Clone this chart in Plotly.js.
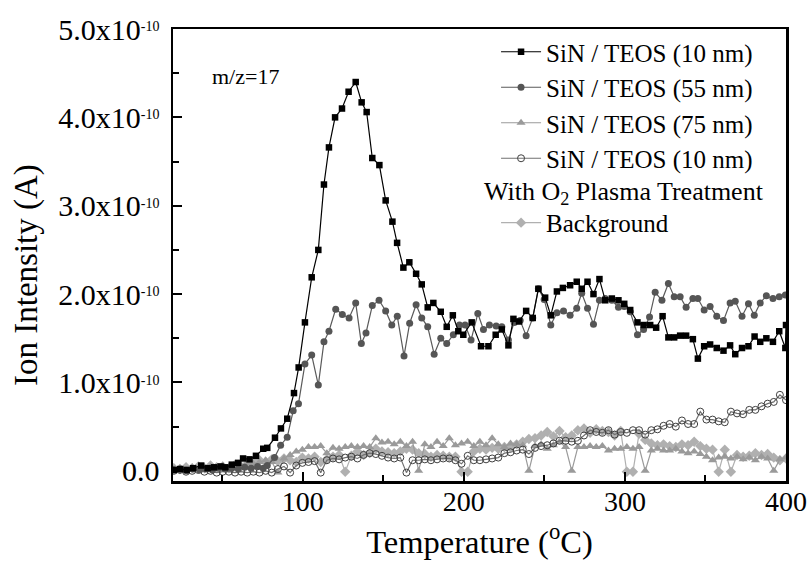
<!DOCTYPE html>
<html>
<head>
<meta charset="utf-8">
<script src="https://cdn.plot.ly/plotly-3.0.1.min.js"></script>
<style>html,body{margin:0;padding:0;background:#fff;}#chart{width:811px;height:578px;}</style>
</head>
<body>
<div id="chart"></div>
<script>
// Ion intensity values are in units of 1e-10 A
// SiN / TEOS (10 nm)
const t10 = [20,24,28,32,37,41,45,49,52,56,60,63,67,71,75.5,78,82.8,86.5,90.4,94.6,97.5,101.4,105.6,109.7,113.2,116.3,120.1,124.4,128.5,132.9,136.6,139.7,143.2,147.6,151.5,155.7,158.6,162.5,166.2,170.4,173.9,177.6,181.1,185.7,189.4,193.2,196.6,199.7,204.9,210.7,215.3,219.8,223.6,227.7,230.8,234.3,238.7,242.8,246.3,250.5,254,257.8,261.5,266,270.1,273.2,276.8,280.5,284.2,287.8,291.9,296,299.6,303.3,307.8,311.6,315.7,319.4,323.4,327,330.6,334.3,338,342.2,345.3,349.2,352.9,357,361.2,365.3,368.5,372.7,376.7,380.5,384,387.8,391.9,395.8,399.6,400];
const v10 = [0.01,0.02,0.01,0.03,0.06,0.03,0.04,0.05,0.04,0.07,0.09,0.14,0.13,0.17,0.25,0.26,0.375,0.48,0.59,0.88,1.17,1.68,2.19,2.50,3.24,3.66,4.00,4.10,4.29,4.40,4.17,4.06,3.54,3.46,3.06,2.82,2.58,2.30,2.36,2.23,2.11,1.85,1.90,1.80,1.63,1.76,1.58,1.54,1.68,1.41,1.41,1.54,1.60,1.42,1.72,1.69,1.81,1.73,2.06,1.96,1.76,2.03,2.07,2.10,2.14,2.06,2.14,2.00,2.17,1.93,1.95,1.93,1.89,1.82,1.68,1.65,1.65,1.62,1.75,1.51,1.51,1.53,1.53,1.49,1.27,1.41,1.43,1.39,1.36,1.42,1.32,1.39,1.41,1.52,1.46,1.50,1.46,1.58,1.39,1.65];

// SiN / TEOS (55 nm)
const t55 = [20,24,28,32,36,40,44,48,52,56,60,64,68,72,75.5,78,82.5,86.3,90.4,94.1,97.4,101.4,105.6,109.7,113.2,116.3,120.5,124.6,128.8,132.9,136.4,139.3,143.2,147.4,151.5,155.3,158.7,162.9,166.4,170.4,173.9,177.6,181.6,185.7,189.4,193.5,197.3,200.8,204.5,208.7,212.2,215.9,220.1,223.6,227.7,231.3,235,238.7,242.8,246.3,249.9,254,257.8,261.9,266,270.1,273.2,276.8,280.5,284.2,287.8,291.9,296,299.6,303.3,307.8,311.6,315.3,318.8,323,327,330.6,334.3,338,342.2,345.3,349.2,352.9,357,361.2,365.3,368.5,372.7,376.7,380.3,384,387.8,391.9,395.8,399.6];
const v55 = [0.01,0.02,0.00,0.02,0.01,0.02,0.01,0.03,0.02,0.03,0.02,0.04,0.03,0.05,0.03,0.06,0.15,0.29,0.38,0.68,0.76,1.21,1.31,0.97,1.46,1.58,1.83,1.77,1.73,1.90,1.44,1.56,1.87,1.93,1.81,1.65,1.75,1.30,1.67,1.88,1.73,1.63,1.32,1.50,1.44,1.54,1.65,1.65,1.48,1.78,1.60,1.65,1.64,1.63,1.48,1.68,1.70,1.53,1.73,2.06,1.94,1.65,1.79,1.81,1.76,1.84,2.01,1.84,1.66,1.93,1.95,1.93,1.85,1.86,1.80,1.54,1.60,1.74,2.02,1.93,2.12,1.97,1.97,1.85,1.95,1.95,1.82,1.86,1.75,1.70,1.90,1.92,1.75,1.89,1.76,1.90,1.98,1.95,1.97,1.99];

// Common temperature grid for the three low-level series
const tLow = [20,23.8,27.6,31.4,35.2,39,42.8,46.6,50.4,54.2,58,61.8,65.6,69.4,73.2,77,80.8,84.6,88.4,92.2,96,99.8,103.6,107.4,111.2,115,118.8,122.6,126.4,130.2,134,137.8,141.6,145.4,149.2,153,156.8,160.6,164.4,168.2,172,175.8,179.6,183.4,187.2,191,194.8,198.6,202.4,206.2,210,213.8,217.6,221.4,225.2,229,232.8,236.6,240.4,244.2,248,251.8,255.6,259.4,263.2,267,270.8,274.6,278.4,282.2,286,289.8,293.6,297.4,301.2,305,308.8,312.6,316.4,320.2,324,327.8,331.6,335.4,339.2,343,346.8,350.6,354.4,358.2,362,365.8,369.6,373.4,377.2,381,384.8,388.6,392.4,396.2,400];

// SiN / TEOS (75 nm)
const v75 = [0.02,0.03,0.01,0.04,0.02,0.03,0.05,0.03,0.06,0.04,0.07,0.05,0.09,0.08,0.10,0.12,0.10,-0.02,0.14,0.18,0.22,0.24,0.27,0.27,0.28,0.20,0.26,0.25,0.27,0.28,0.27,0.28,0.27,0.37,0.32,0.33,0.30,0.33,0.28,0.33,0.00,0.30,0.27,0.33,0.28,0.37,0.29,0.31,0.33,0.28,0.33,0.29,0.37,0.30,0.27,0.31,0.30,0.29,0.00,0.28,0.30,0.25,0.29,0.33,0.27,0.00,0.27,0.27,0.28,0.27,0.28,0.23,0.25,0.25,0.27,0.25,0.27,0.00,0.23,0.25,0.23,0.23,0.25,0.22,0.20,0.22,0.19,0.16,0.12,0.15,0.16,0.14,0.16,0.13,0.15,0.12,0.16,0.14,0.00,0.13,0.15];

// SiN / TEOS (10 nm) with O2 plasma treatment
const vO2 = [0.00,0.01,-0.01,0.00,0.01,-0.01,0.00,-0.02,-0.01,-0.01,-0.02,-0.01,-0.02,-0.01,-0.02,0.00,-0.02,0.02,0.05,-0.02,0.06,0.09,0.10,0.11,-0.02,0.12,0.14,0.13,0.15,0.16,0.14,0.18,0.20,0.19,0.17,0.15,0.14,0.15,-0.02,0.12,0.12,0.13,0.12,0.13,0.14,0.14,0.12,0.08,0.17,0.12,0.12,0.13,0.14,0.15,0.20,0.21,0.23,0.24,0.19,0.26,0.28,0.29,0.31,0.34,0.34,0.33,0.34,0.40,0.46,0.44,0.43,0.46,0.41,0.44,0.43,0.46,0.46,0.41,0.46,0.47,0.51,0.53,0.50,0.57,0.53,0.53,0.67,0.58,0.58,0.56,0.55,0.67,0.65,0.64,0.69,0.69,0.73,0.76,0.78,0.86,0.80];

// Background
const vBg = [0.03,0.02,0.04,0.03,0.05,0.03,0.06,0.04,0.05,0.03,0.07,0.05,0.08,0.10,0.12,0.10,0.13,0.11,0.14,0.12,0.10,0.15,0.14,0.16,0.10,0.13,0.16,0.18,-0.01,0.17,0.22,0.18,0.20,0.25,0.22,0.21,0.20,0.22,0.25,0.24,0.20,0.19,0.16,0.18,0.17,0.16,0.16,-0.01,-0.01,0.22,0.25,0.24,0.26,0.25,0.27,0.26,0.30,0.33,0.36,0.37,0.40,0.44,0.39,0.45,0.38,0.40,0.46,0.48,0.43,0.47,0.45,0.44,0.40,0.45,-0.01,-0.01,0.42,0.35,0.31,0.29,0.30,0.28,0.27,0.30,0.29,0.33,0.28,0.25,0.24,-0.01,0.24,-0.01,0.18,0.16,0.17,0.20,0.18,0.19,0.15,0.12,0.14];

const seriesNames = ["SiN / TEOS (10 nm)","SiN / TEOS (55 nm)","SiN / TEOS (75 nm)","SiN / TEOS (10 nm)","Background"];
const yTickVals = [0,1,2,3,4,5];
const SUP = "<span style=\"font-size:20px\"><sup>-10</sup></span>";
const yTickText = ["0.0","1.0x10"+SUP,"2.0x10"+SUP,"3.0x10"+SUP,"4.0x10"+SUP,"5.0x10"+SUP];
const yMinorVals = [0.5,1.5,2.5,3.5,4.5];

const SERIF = "Liberation Serif, Times New Roman, serif";
const LEGFONT = {family: SERIF, size: 25, color: "#000"};

const traces = [
  {x: tLow, y: vBg, name: seriesNames[4], legend: "legend2", mode: "lines+markers",
   line: {color: "#b0b0b0", width: 1.2},
   marker: {symbol: "diamond", size: 8, color: "#b0b0b0"}},
  {x: tLow, y: v75, name: seriesNames[2], legendrank: 3, mode: "lines+markers",
   line: {color: "#9a9a9a", width: 1.2},
   marker: {symbol: "triangle-up", size: 8, color: "#9a9a9a"}},
  {x: tLow, y: vO2, name: seriesNames[3], legendrank: 4, mode: "lines+markers",
   line: {color: "#707070", width: 1.2},
   marker: {symbol: "circle-open", size: 7, color: "#404040", line: {width: 1}}},
  {x: t55, y: v55, name: seriesNames[1], legendrank: 2, mode: "lines+markers",
   line: {color: "#5a5a5a", width: 1.2},
   marker: {symbol: "circle", size: 7, color: "#555555"}},
  {x: t10, y: v10, name: seriesNames[0], legendrank: 1, mode: "lines+markers",
   line: {color: "#000000", width: 1.2},
   marker: {symbol: "square", size: 6.5, color: "#000000"}}
];

const layout = {
  width: 811, height: 578,
  margin: {l: 173, r: 25, t: 29, b: 97, pad: 0},
  paper_bgcolor: "#ffffff", plot_bgcolor: "#ffffff",
  font: {family: SERIF, color: "#000", size: 24},
  showlegend: true,
  legend: {
    x: 0.527, xanchor: "left", y: 1.0, yanchor: "top",
    bgcolor: "rgba(0,0,0,0)", borderwidth: 0,
    font: LEGFONT, itemwidth: 40, tracegroupgap: 0
  },
  legend2: {
    x: 0.527, xanchor: "left", y: 0.571, yanchor: "middle",
    bgcolor: "rgba(0,0,0,0)", borderwidth: 0,
    font: LEGFONT, itemwidth: 40, tracegroupgap: 0
  },
  xaxis: {
    range: [19.5, 400], tickmode: "linear", tick0: 0, dtick: 100,
    ticks: "inside", ticklen: 9, tickwidth: 2, tickcolor: "#000",
    minor: {tickmode: "linear", tick0: 0, dtick: 50, ticks: "inside", ticklen: 6, tickwidth: 2, tickcolor: "#000"},
    showline: true, linewidth: 2.5, linecolor: "#000", mirror: true,
    showgrid: false, zeroline: false, ticklabelstandoff: -6,
    tickfont: {family: SERIF, size: 28, color: "#000"},
    title: {text: "Temperature (<sup>o</sup>C)", font: {family: SERIF, size: 32.5, color: "#000"}, standoff: 14}
  },
  yaxis: {
    range: [-0.115, 5.0], tickmode: "array", tickvals: yTickVals, ticktext: yTickText,
    ticks: "inside", ticklen: 9, tickwidth: 2, tickcolor: "#000",
    minor: {tickmode: "array", tickvals: yMinorVals, ticks: "inside", ticklen: 6, tickwidth: 2, tickcolor: "#000"},
    showline: true, linewidth: 2.5, linecolor: "#000", mirror: true,
    showgrid: false, zeroline: false, ticklabelstandoff: 5,
    tickfont: {family: SERIF, size: 30, color: "#000"}
  },
  annotations: [
    {xref: "paper", yref: "paper", x: -0.238, y: 0.456, xanchor: "center", yanchor: "middle", textangle: -90,
     text: "Ion Intensity (A)", showarrow: false, font: {family: SERIF, size: 33, color: "#000"}},
    {xref: "paper", yref: "paper", x: 0.06, y: 0.896, xanchor: "left", yanchor: "middle",
     text: "m/z=17", showarrow: false, font: {family: SERIF, size: 22, color: "#000"}},
    {xref: "paper", yref: "paper", x: 0.504, y: 0.638, xanchor: "left", yanchor: "middle",
     text: "With O<sub>2</sub> Plasma Treatment", showarrow: false, font: {family: SERIF, size: 26, color: "#000"}}
  ]
};

Plotly.newPlot("chart", traces, layout, {displayModeBar: false, staticPlot: true});
</script>
</body>
</html>
